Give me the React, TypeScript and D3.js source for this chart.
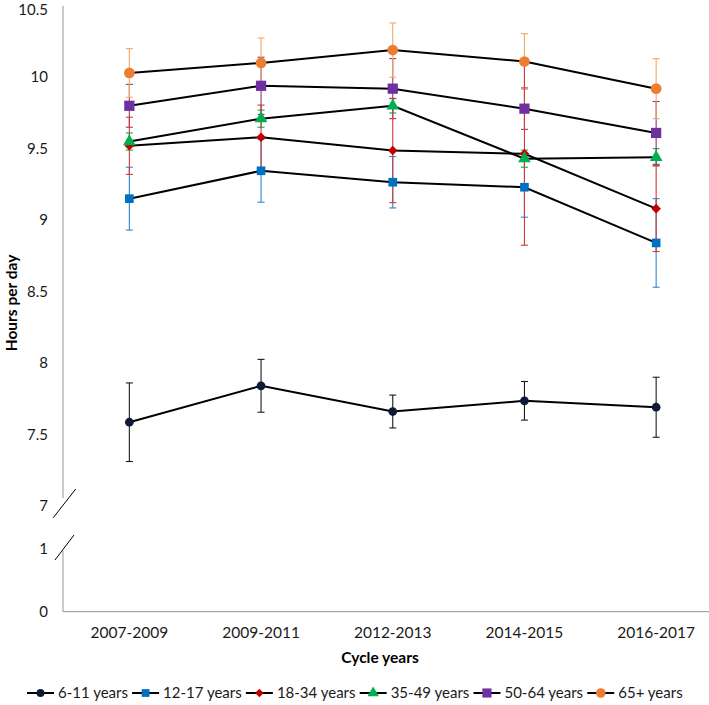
import React, { useMemo } from "react";
import * as d3 from "d3";

const categories = ["2007-2009", "2009-2011", "2012-2013", "2014-2015", "2016-2017"];
const seriesNames = ["6-11 years", "12-17 years", "18-34 years", "35-49 years", "50-64 years", "65+ years"];
const v611 = [7.585, 7.84, 7.66, 7.735, 7.69];
const e611 = [0.275, 0.185, 0.115, 0.135, 0.21];
const v1217 = [9.15, 9.345, 9.265, 9.23, 8.84];
const e1217 = [0.22, 0.22, 0.18, 0.21, 0.31];
const v1834 = [9.52, 9.58, 9.487, 9.464, 9.08];
const e1834 = [0.2, 0.225, 0.365, 0.64, 0.3];
const v3549 = [9.55, 9.71, 9.8, 9.43, 9.44];
const e3549 = [0.06, 0.06, 0.05, 0.06, 0.06];
const v5064 = [9.8, 9.94, 9.92, 9.78, 9.61];
const e5064 = [0.15, 0.2, 0.21, 0.145, 0.22];
const v65 = [10.03, 10.1, 10.19, 10.11, 9.92];
const e65 = [0.17, 0.175, 0.19, 0.195, 0.21];
const upperTicks = [7, 7.5, 8, 8.5, 9, 9.5, 10, 10.5];
const lowerTicks = [0, 1];

const markerColors = ["#0F1A36", "#0070C0", "#C00000", "#00B050", "#7030A0", "#ED7D31"];
const errColors = ["#1a1a1a", "#2E86D0", "#D03A3A", "#00B050", "#8E3A6E", "#F4A868"];
const shapes = ["circle", "square", "diamond", "triangle", "square", "circle"];
const sizes = [60, 75, 46, 70, 105, 90];
const errOrder = [3, 0, 1, 4, 5, 2];

const FONT = "Lato, 'Noto Sans', sans-serif";

function symbolPath(shape: string, size: number) {
  const t =
    shape === "circle" ? d3.symbolCircle :
    shape === "square" ? d3.symbolSquare :
    shape === "triangle" ? d3.symbolTriangle : d3.symbolSquare;
  return d3.symbol().type(t).size(size)() as string;
}

export default function App() {
  const W = 709, H = 705;
  const values = [v611, v1217, v1834, v3549, v5064, v65];
  const errs = [e611, e1217, e1834, e3549, e5064, e65];

  const x = d3.scalePoint<string>().domain(categories).range([63.5, 722]).padding(0.5);
  const yU = d3.scaleLinear().domain([7, 10.5]).range([505.8, 5.8]);
  const yL = d3.scaleLinear().domain([0, 1]).range([611.7, 549]);
  const axisX = 63;
  const axisColor = "#A6A6A6";

  const line = d3.line<number>().x((_, i) => x(categories[i]) as number).y((d) => yU(d));

  const legend = useMemo(() => {
    const ctx = document.createElement("canvas").getContext("2d");
    const fs = 15;
    let widths = seriesNames.map((n) => n.length * 7);
    if (ctx) {
      ctx.font = `${fs}px Lato`;
      widths = seriesNames.map((n) => ctx.measureText(n).width);
    }
    const lineLen = 27, gap1 = 4;
    const start = 27, end = 683;
    const used = widths.reduce((a, b) => a + b, 0) + seriesNames.length * (lineLen + gap1);
    const gap2 = (end - start - used) / (seriesNames.length - 1);
    let cx = start;
    return seriesNames.map((n, i) => {
      const it = { name: n, x0: cx, lineLen, tx: cx + lineLen + gap1 };
      cx += lineLen + gap1 + widths[i] + gap2;
      return it;
    });
  }, []);

  return (
    <svg width={W} height={H} style={{ position: "absolute", left: 0, top: 0, background: "#fff" }} fontFamily={FONT}>
      <rect width={W} height={H} fill="#fff" />
      {/* axes */}
      <line x1={axisX} x2={axisX} y1={yU(10.5)} y2={498} stroke={axisColor} strokeWidth={1.2} />
      <line x1={axisX} x2={axisX} y1={551} y2={yL(0)} stroke={axisColor} strokeWidth={1.2} />
      <line x1={axisX} x2={W} y1={yL(0)} y2={yL(0)} stroke={axisColor} strokeWidth={1.2} />
      {/* break marks */}
      <line x1={53.3} y1={517.7} x2={75.7} y2={489} stroke="#000" strokeWidth={1} />
      <line x1={55} y1={560} x2={74} y2={535} stroke="#000" strokeWidth={1} />
      {/* tick labels */}
      {upperTicks.map((t) => (
        <text key={"u" + t} x={48} y={Math.max(yU(t), 9.5)} dy="0.35em" textAnchor="end" fontSize={15} fill="#1a1a1a">
          {t}
        </text>
      ))}
      {lowerTicks.map((t) => (
        <text key={"l" + t} x={48} y={yL(t)} dy="0.35em" textAnchor="end" fontSize={15} fill="#1a1a1a">
          {t}
        </text>
      ))}
      {categories.map((c) => (
        <text key={c} x={x(c)} y={633} dy="0.35em" textAnchor="middle" fontSize={15.5} fill="#1a1a1a">
          {c}
        </text>
      ))}
      <text x={380} y={658} dy="0.35em" textAnchor="middle" fontSize={15.5} fontWeight="bold" fill="#000">
        Cycle years
      </text>
      <text transform={`translate(12,303) rotate(-90)`} textAnchor="middle" dy="0.35em" fontSize={15.5} fontWeight="bold" fill="#000">
        Hours per day
      </text>
      {/* error bars */}
      {errOrder.map((si) =>
        values[si].map((v, i) => {
          const cx = x(categories[i]) as number;
          const e = errs[si][i];
          const y1 = yU(v + e), y2 = yU(v - e);
          return (
            <g key={`e${si}-${i}`} stroke={errColors[si]} strokeWidth={1.1}>
              <line x1={cx} x2={cx} y1={y1} y2={y2} />
              <line x1={cx - 3.5} x2={cx + 3.5} y1={y1} y2={y1} />
              <line x1={cx - 3.5} x2={cx + 3.5} y1={y2} y2={y2} />
            </g>
          );
        })
      )}
      {/* lines */}
      {values.map((vals, si) => (
        <path key={`l${si}`} d={line(vals) as string} fill="none" stroke="#000" strokeWidth={2} />
      ))}
      {/* markers */}
      {values.map((vals, si) =>
        vals.map((v, i) => (
          <path
            key={`m${si}-${i}`}
            d={symbolPath(shapes[si], sizes[si])}
            transform={`translate(${x(categories[i])},${yU(v)})${shapes[si] === "diamond" ? " rotate(45)" : ""}`}
            fill={markerColors[si]}
          />
        ))
      )}
      {/* legend */}
      {legend.map((it, si) => (
        <g key={it.name}>
          <line x1={it.x0} x2={it.x0 + it.lineLen} y1={693} y2={693} stroke="#000" strokeWidth={2} />
          <path
            d={symbolPath(shapes[si], sizes[si] * 0.8)}
            transform={`translate(${it.x0 + it.lineLen / 2},693)${shapes[si] === "diamond" ? " rotate(45)" : ""}`}
            fill={markerColors[si]}
          />
          <text x={it.tx} y={693} dy="0.35em" fontSize={15} fill="#1a1a1a">
            {it.name}
          </text>
        </g>
      ))}
    </svg>
  );
}
